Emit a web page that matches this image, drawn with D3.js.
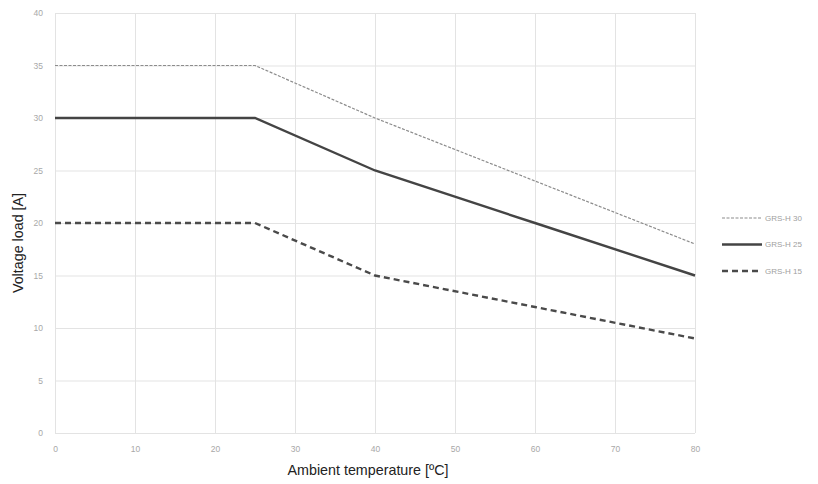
<!DOCTYPE html>
<html>
<head>
<meta charset="utf-8">
<script src="https://cdn.jsdelivr.net/npm/d3@7"></script>
<style>
  body { margin: 0; background: #fff; }
  .tick text { font-family: "Liberation Sans", Arial, sans-serif; font-size: 8.5px; fill: #a8a8a8; }
  .grid line { stroke: #e3e3e3; stroke-width: 1; }
  .grid path { display: none; }
  .title { font-family: "Liberation Sans", Arial, sans-serif; font-size: 14.3px; fill: #222; }
  .legend text { font-family: "Liberation Sans", Arial, sans-serif; font-size: 8px; fill: #a0a0a0; }
</style>
</head>
<body>
<div id="chart"></div>
<script>
// data
var temps = [0, 25, 40, 60, 80];
var grs30 = [35, 35, 30, 24, 18];
var grs25 = [30, 30, 25, 20, 15];
var grs15 = [20, 20, 15, 12, 9];
var seriesNames = ["GRS-H 30", "GRS-H 25", "GRS-H 15"];
var xTicks = [0, 10, 20, 30, 40, 50, 60, 70, 80];
var yTicks = [0, 5, 10, 15, 20, 25, 30, 35, 40];

var width = 818, height = 484;
var margin = {left: 55, right: 123, top: 13, bottom: 51};

var svg = d3.select("#chart").append("svg")
    .attr("width", width)
    .attr("height", height);

var x = d3.scaleLinear().domain([0, 80]).range([margin.left, width - margin.right]);
var y = d3.scaleLinear().domain([0, 40]).range([height - margin.bottom, margin.top]);

// gridlines
svg.append("g")
    .attr("class", "grid")
    .attr("transform", "translate(0," + margin.top + ")")
    .call(d3.axisBottom(x).tickValues(xTicks).tickSize(y(0) - y(40)).tickFormat(""));
svg.append("g")
    .attr("class", "grid")
    .attr("transform", "translate(" + margin.left + ",0)")
    .call(d3.axisRight(y).tickValues(yTicks).tickSize(x(80) - x(0)).tickFormat(""));

// tick labels
var xAxis = svg.append("g")
    .attr("transform", "translate(0," + y(0) + ")")
    .call(d3.axisBottom(x).tickValues(xTicks).tickSize(0).tickPadding(13));
xAxis.select(".domain").remove();

var yAxis = svg.append("g")
    .attr("transform", "translate(" + margin.left + ",0)")
    .call(d3.axisLeft(y).tickValues(yTicks).tickSize(0).tickPadding(12));
yAxis.select(".domain").remove();

// series
var series = [
  {name: seriesNames[0], values: grs30, color: "#8c8c8c", width: 1.2, dash: "3,1.5"},
  {name: seriesNames[1], values: grs25, color: "#444", width: 2.4, dash: null},
  {name: seriesNames[2], values: grs15, color: "#4a4a4a", width: 2.4, dash: "6,4"}
];

var line = d3.line()
    .x(function(d) { return x(d[0]); })
    .y(function(d) { return y(d[1]); });

series.forEach(function(s) {
  svg.append("path")
      .datum(temps.map(function(t, i) { return [t, s.values[i]]; }))
      .attr("fill", "none")
      .attr("stroke", s.color)
      .attr("stroke-width", s.width)
      .attr("stroke-dasharray", s.dash)
      .attr("d", line);
});

// legend
var legend = svg.append("g").attr("class", "legend")
    .attr("transform", "translate(722,218)");
series.forEach(function(s, i) {
  var g = legend.append("g").attr("transform", "translate(0," + (i * 26.5) + ")");
  g.append("line")
      .attr("x1", 0).attr("x2", 40)
      .attr("stroke", s.color)
      .attr("stroke-width", s.width)
      .attr("stroke-dasharray", s.dash);
  g.append("text")
      .attr("x", 43).attr("dy", "0.35em")
      .text(s.name);
});

// axis titles
svg.append("text")
    .attr("class", "title")
    .attr("x", 368).attr("y", 475)
    .attr("text-anchor", "middle")
    .text("Ambient temperature [ºC]");

svg.append("text")
    .attr("class", "title")
    .attr("transform", "translate(23,243) rotate(-90)")
    .attr("text-anchor", "middle")
    .text("Voltage load [A]");
</script>
</body>
</html>
